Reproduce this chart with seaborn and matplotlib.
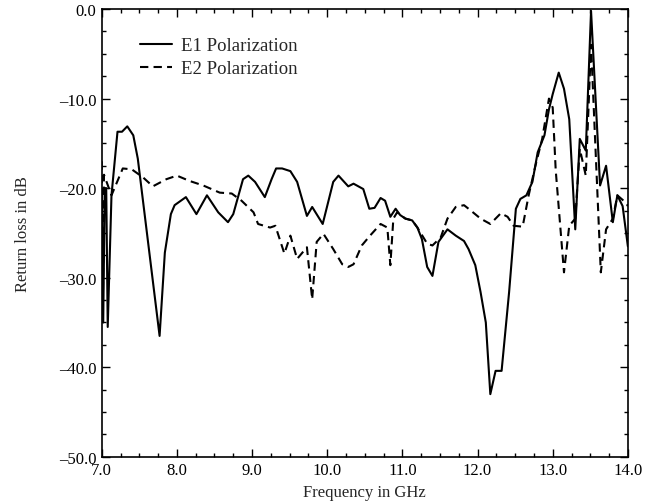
import matplotlib
matplotlib.use("Agg")
import matplotlib.pyplot as plt
import matplotlib.ticker as mticker
import seaborn as sns
import pandas as pd

# E1 polarization (solid)
e1_freq = [7.00, 7.02, 7.04, 7.06, 7.08, 7.13, 7.21, 7.27, 7.34, 7.42, 7.48, 7.77,
           7.84, 7.92, 7.97, 8.12, 8.26, 8.40, 8.55, 8.68, 8.75, 8.88, 8.95, 9.04,
           9.17, 9.26, 9.32, 9.40, 9.51, 9.60, 9.73, 9.80, 9.94, 10.08, 10.15, 10.28,
           10.35, 10.48, 10.56, 10.63, 10.71, 10.77, 10.84, 10.91, 10.97, 11.04, 11.13,
           11.20, 11.26, 11.33, 11.40, 11.48, 11.60, 11.71, 11.82, 11.88, 11.97, 12.04,
           12.11, 12.17, 12.24, 12.32, 12.42, 12.51, 12.57, 12.65, 12.73, 12.80, 12.89,
           12.95, 13.00, 13.08, 13.15, 13.22, 13.30, 13.36, 13.44, 13.51, 13.63, 13.71,
           13.80, 13.86, 13.93, 14.00]
e1_db = [-20.0, -35.0, -20.0, -20.0, -35.5, -20.8, -13.7, -13.7, -13.1, -14.1, -16.7, -36.5,
         -27.2, -22.9, -21.9, -21.0, -22.9, -20.8, -22.7, -23.8, -22.9, -19.0, -18.6, -19.3,
         -21.0, -19.0, -17.8, -17.8, -18.1, -19.3, -23.1, -22.1, -24.0, -19.3, -18.6, -19.8,
         -19.5, -20.1, -22.3, -22.2, -21.1, -21.4, -23.2, -22.3, -23.0, -23.4, -23.6,
         -24.4, -25.7, -28.8, -29.8, -26.0, -24.6, -25.3, -25.9, -26.8, -28.6, -31.6,
         -35.0, -43.0, -40.4, -40.4, -31.6, -22.3, -21.2, -20.8, -19.3, -16.0, -14.1,
         -11.2, -9.5, -7.1, -8.9, -12.3, -24.6, -14.5, -15.8, -0.2, -19.7, -17.5,
         -23.8, -20.8, -22.0, -26.5]

# E2 polarization (dashed)
e2_freq = [7.00, 7.015, 7.03, 7.13, 7.28, 7.40, 7.55, 7.68, 7.86, 8.00, 8.17, 8.35,
           8.57, 8.73, 8.86, 9.02, 9.08, 9.24, 9.31, 9.43, 9.51, 9.60, 9.73, 9.80,
           9.86, 9.95, 10.08, 10.20, 10.28, 10.35, 10.46, 10.57, 10.71, 10.80, 10.84,
           10.88, 10.93, 11.04, 11.13, 11.20, 11.33, 11.40, 11.51, 11.60, 11.71, 11.82,
           11.91, 12.04, 12.17, 12.31, 12.40, 12.48, 12.60, 12.68, 12.77, 12.86, 12.95,
           13.00, 13.04, 13.15, 13.22, 13.30, 13.36, 13.44, 13.51, 13.64, 13.71, 13.80,
           13.86, 13.97, 14.00]
e2_db = [-17.0, -34.0, -18.5, -20.8, -17.8, -17.9, -18.8, -19.8, -19.0, -18.6, -19.2, -19.7,
         -20.5, -20.6, -21.4, -22.7, -24.0, -24.4, -24.2, -27.3, -25.3, -27.9, -26.6, -32.4,
         -26.0, -25.1, -26.8, -28.5, -28.8, -28.5, -26.4, -25.3, -24.0, -24.4, -28.6,
         -23.4, -22.7, -23.4, -23.6, -24.4, -26.2, -26.4, -25.5, -23.4, -22.1, -21.9,
         -22.5, -23.4, -24.0, -22.8, -23.2, -24.2, -24.3, -20.8, -17.5, -14.5, -10.0,
         -11.0, -18.0, -29.4, -24.2, -23.4, -15.6, -18.6, -4.0, -29.4, -24.6, -23.4,
         -20.8, -21.6, -22.0]

series_names = ["E1 Polarization", "E2 Polarization"]

df = pd.concat([
    pd.DataFrame({"freq": e1_freq, "db": e1_db, "series": series_names[0]}),
    pd.DataFrame({"freq": e2_freq, "db": e2_db, "series": series_names[1]}),
])

sns.set_style("ticks")
plt.rcParams["font.family"] = ["Liberation Serif", "DejaVu Serif"]
plt.rcParams["font.size"] = 12

fig = plt.figure(figsize=(6.52, 5.02), dpi=100)
ax = fig.add_axes([0.156, 0.088, 0.807, 0.892])

sns.lineplot(data=df, x="freq", y="db", style="series", color="black",
             dashes={series_names[0]: "", series_names[1]: (4, 2.5)},
             linewidth=1.5, sort=False, estimator=None, ax=ax)

ax.set_xlim(7.0, 14.0)
ax.set_ylim(-50.0, 0.0)
ax.xaxis.set_major_locator(mticker.MultipleLocator(1.0))
ax.xaxis.set_minor_locator(mticker.MultipleLocator(0.25))
ax.yaxis.set_major_locator(mticker.MultipleLocator(10.0))
ax.yaxis.set_minor_locator(mticker.MultipleLocator(2.5))
fmt = mticker.FuncFormatter(lambda v, pos: f"{v:.1f}".replace("-", "\u2013"))
ax.xaxis.set_major_formatter(fmt)
ax.yaxis.set_major_formatter(fmt)
ax.tick_params(which="both", direction="in", top=True, right=True,
               colors="black", labelsize=12)
ax.tick_params(which="major", length=6, width=1.0, pad=4)
ax.tick_params(which="minor", length=3, width=1.0)
for s in ax.spines.values():
    s.set_linewidth(1.2)
    s.set_color("black")

ax.set_xlabel("Frequency in GHz", fontsize=12, labelpad=4)
ax.set_ylabel("Return loss in dB", fontsize=12, labelpad=20)

leg = ax.legend(loc="upper left", bbox_to_anchor=(0.04, 0.975), frameon=False,
                fontsize=13.5, handlelength=1.75, handletextpad=0.45, labelspacing=0.32)

fig.savefig("out.png", dpi=100)
